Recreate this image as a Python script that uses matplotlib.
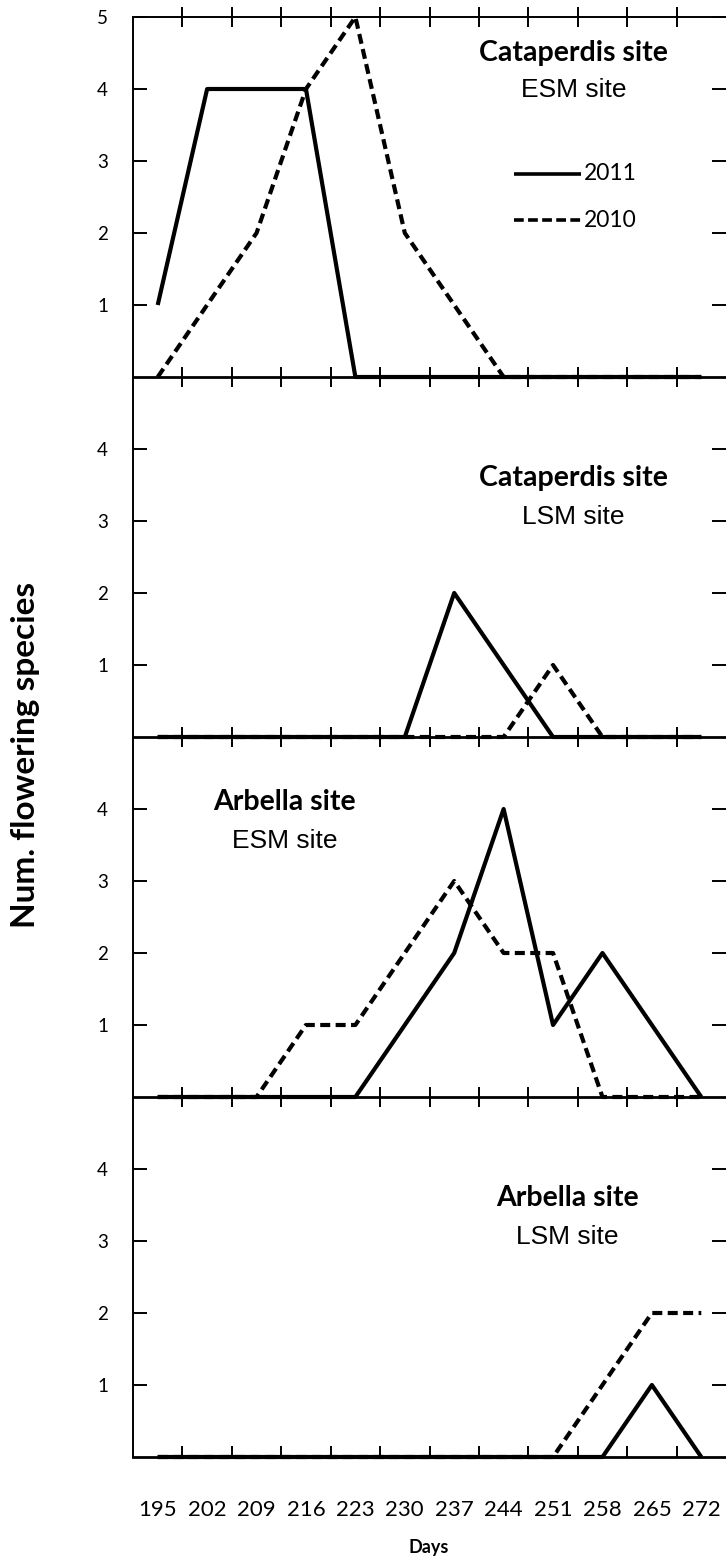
import matplotlib
matplotlib.use("Agg")
import matplotlib.pyplot as plt
from matplotlib.ticker import FixedLocator, NullFormatter

days = [195, 202, 209, 216, 223, 230, 237, 244, 251, 258, 265, 272]

# flowering species counts per panel
cat_esm_2011 = [1, 4, 4, 4, 0, 0, 0, 0, 0, 0, 0, 0]
cat_esm_2010 = [0, 1, 2, 4, 5, 2, 1, 0, 0, 0, 0, 0]
cat_lsm_2011 = [0, 0, 0, 0, 0, 0, 2, 1, 0, 0, 0, 0]
cat_lsm_2010 = [0, 0, 0, 0, 0, 0, 0, 0, 1, 0, 0, 0]
arb_esm_2011 = [0, 0, 0, 0, 0, 1, 2, 4, 1, 2, 1, 0]
arb_esm_2010 = [0, 0, 0, 1, 1, 2, 3, 2, 2, 0, 0, 0]
arb_lsm_2011 = [0, 0, 0, 0, 0, 0, 0, 0, 0, 0, 1, 0]
arb_lsm_2010 = [0, 0, 0, 0, 0, 0, 0, 0, 0, 1, 2, 2]

panels = [
    ("Cataperdis site", "ESM site", cat_esm_2011, cat_esm_2010),
    ("Cataperdis site", "LSM site", cat_lsm_2011, cat_lsm_2010),
    ("Arbella site", "ESM site", arb_esm_2011, arb_esm_2010),
    ("Arbella site", "LSM site", arb_lsm_2011, arb_lsm_2010),
]
# label placement (day, y of bold line, y of second line)
label_pos = [(253.9, 4.5, 3.98), (253.9, 3.6, 3.05), (213.0, 4.1, 3.55), (253.0, 3.6, 3.05)]

W, H = 726, 1567
fig = plt.figure(figsize=(W / 100, H / 100), dpi=100)

left, right = 133 / W, 1.0
top_px, panel_h = 17, 360
CAL = ["Lato", "DejaVu Sans"]
ARIAL = ["Liberation Sans", "DejaVu Sans"]

axes = []
for i, (site, sub, y11, y10) in enumerate(panels):
    y0 = top_px + i * panel_h
    ax = fig.add_axes([left, 1 - (y0 + panel_h) / H, right - left, panel_h / H])
    ax.patch.set_visible(False)
    axes.append(ax)
    ax.plot(days, y11, color="black", lw=3.0, solid_capstyle="butt", clip_on=False, zorder=3)
    ax.plot(days, y10, color="black", lw=3.0, ls=(0, (2.4, 1.3)), clip_on=False, zorder=3)
    ax.set_xlim(191.5, 275.5)
    ax.set_ylim(0, 5)

    ax.spines["right"].set_visible(False)
    ax.spines["left"].set_linewidth(1.4)
    ax.spines["bottom"].set_linewidth(2.0)
    ax.spines["top"].set_linewidth(1.4)
    if i > 0:
        ax.spines["top"].set_visible(False)

    yt = [1, 2, 3, 4, 5] if i == 0 else [1, 2, 3, 4]
    ax.set_yticks(yt)
    ax.set_yticklabels([str(v) for v in yt], family=CAL, fontsize=13.5)
    ax.tick_params(axis="y", direction="in", length=10, width=1.4, pad=18,
                   right=True, left=True)

    # category ticks sit between the days
    ax.xaxis.set_major_locator(FixedLocator(days))
    ax.xaxis.set_minor_locator(FixedLocator([d + 3.5 for d in days[:-1]]))
    ax.xaxis.set_minor_formatter(NullFormatter())
    ax.tick_params(axis="x", which="major", length=0, pad=31)
    ax.tick_params(axis="x", which="minor", direction="inout" if i < 3 else "in",
                   length=14 if i < 3 else 8, width=1.4, top=(i == 0))
    if i < 3:
        ax.set_xticklabels([])
    else:
        ax.set_xticklabels([str(d) for d in days], family=CAL, fontsize=16)

    tx, ty1, ty2 = label_pos[i]
    ax.text(tx, ty1, site, ha="center", va="center", family=CAL,
            fontweight="bold", fontsize=20.5)
    ax.text(tx, ty2, sub, ha="center", va="center", family=ARIAL, fontsize=19)

# legend drawn inside the first panel
ax = axes[0]
ax.plot([245.4, 254.9], [2.82, 2.82], color="black", lw=2.6, solid_capstyle="butt")
ax.plot([245.4, 254.9], [2.18, 2.18], color="black", lw=2.6, ls=(0, (2.7, 1.2)))
ax.text(255.3, 2.82, "2011", va="center", ha="left", family=CAL, fontsize=16.5)
ax.text(255.3, 2.18, "2010", va="center", ha="left", family=CAL, fontsize=16.5)

fig.text(26 / W, 1 - 755 / H, "Num. flowering species", rotation=90, ha="center",
         va="center", family=CAL, fontweight="bold", fontsize=24)
fig.text((133 + 725) / 2 / W, 1 - 1547 / H, "Days", ha="center", va="center",
         family=CAL, fontweight="bold", fontsize=13)

fig.savefig("out.png", dpi=100)
